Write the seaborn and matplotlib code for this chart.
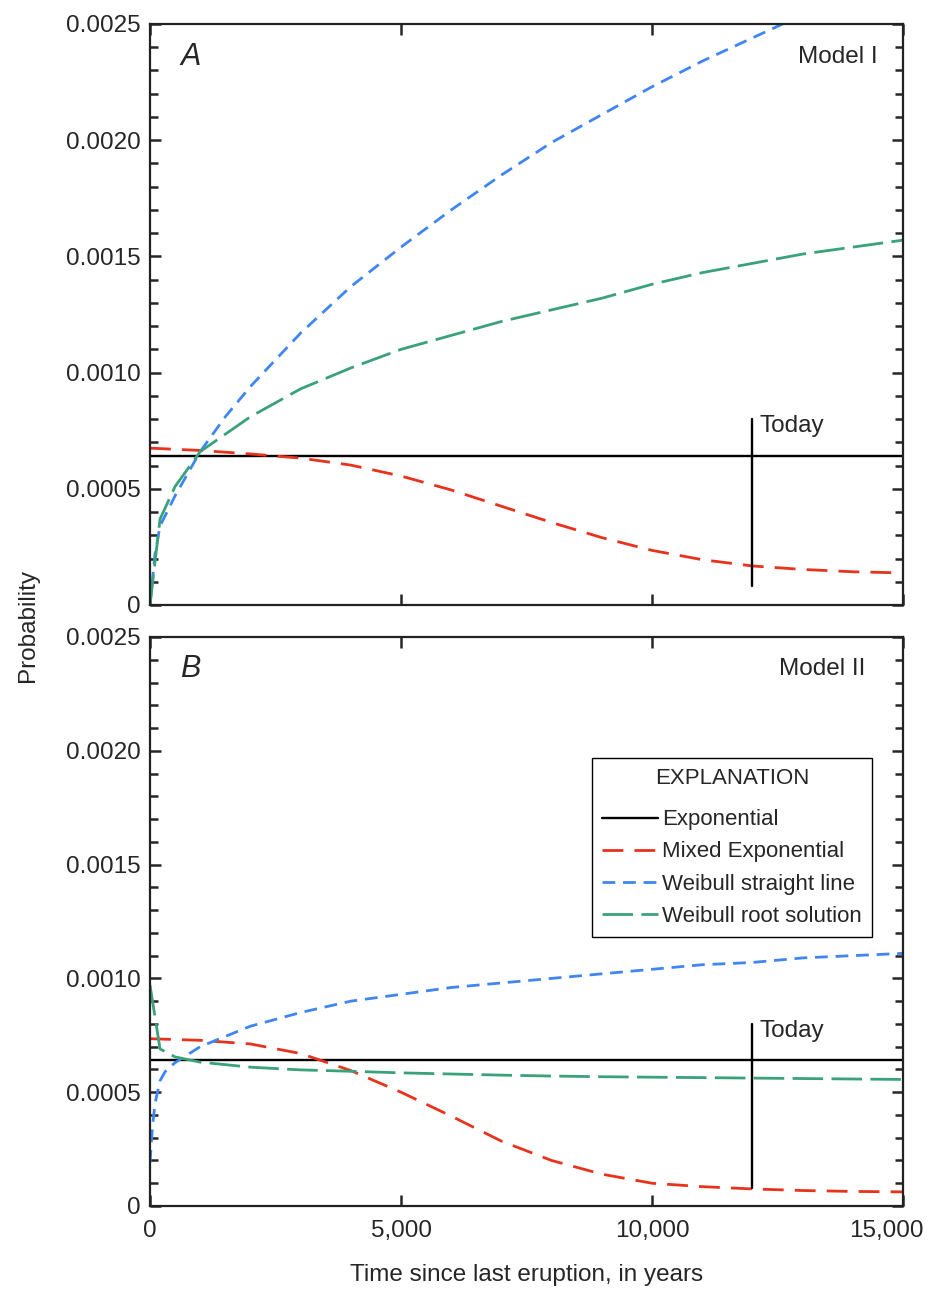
import matplotlib
matplotlib.use("Agg")
import matplotlib.pyplot as plt
import matplotlib.transforms as mtransforms
import seaborn as sns
import numpy as np
import pandas as pd
from matplotlib.ticker import MultipleLocator, FixedLocator
from matplotlib.lines import Line2D

# ---------------- data ----------------
exp_t = [0, 15000]
exp_A = [0.00064, 0.00064]
exp_B = [0.00064, 0.00064]

mix_t = [0, 1000, 2000, 3000, 4000, 5000, 6000, 7000, 8000, 9000, 10000, 11000, 12000, 13000, 14000, 15000]
mix_A = [0.000675, 0.000665, 0.00065, 0.000632, 0.000602, 0.000555, 0.000495, 0.000425, 0.000355,
         0.000290, 0.000235, 0.000195, 0.000168, 0.000153, 0.000143, 0.000138]
mix_B = [0.000735, 0.000728, 0.000712, 0.000670, 0.000595, 0.000500, 0.000395, 0.000285, 0.000200,
         0.000140, 0.000100, 0.000085, 0.000075, 0.000068, 0.000064, 0.000062]

wsl_tA = [0, 100, 200, 500, 1000, 1500, 2000, 3000, 4000, 5000, 6000, 7000, 8000, 9000, 10000,
          11000, 12000, 13000, 14000, 15000]
wsl_A = [0, 0.00022, 0.00034, 0.00047, 0.00066, 0.00081, 0.00094, 0.00117, 0.00137, 0.00154, 0.00170,
         0.00185, 0.00199, 0.00211, 0.00223, 0.00234, 0.00244, 0.00254, 0.00264, 0.00274]
wsl_tB = [0, 50, 100, 200, 300, 500, 1000, 2000, 3000, 4000, 5000, 6000, 7000, 8000, 9000, 10000,
          11000, 12000, 13000, 14000, 15000]
wsl_B = [0.00019, 0.00035, 0.00045, 0.00055, 0.00059, 0.00063, 0.00070, 0.00079, 0.00085, 0.00090,
         0.00093, 0.00096, 0.00098, 0.00100, 0.00102, 0.00104, 0.00106, 0.00107, 0.00109, 0.00110, 0.00111]

wrs_t = [0, 200, 500, 1000, 2000, 3000, 4000, 5000, 6000, 7000, 8000, 9000, 10000, 11000, 12000,
         13000, 14000, 15000]
wrs_A = [0, 0.00037, 0.00051, 0.00066, 0.00081, 0.00093, 0.00102, 0.00110, 0.00116, 0.00122, 0.00127,
         0.00132, 0.00138, 0.00143, 0.00147, 0.00151, 0.00154, 0.00157]
wrs_B = [0.00097, 0.00069, 0.000655, 0.000632, 0.00061, 0.000598, 0.000592, 0.000585, 0.00058, 0.000575,
         0.000571, 0.000568, 0.000566, 0.000564, 0.000562, 0.00056, 0.000558, 0.000556]

today_x = 12000
today_y = [0.00008, 0.0008]

series_names = ["Exponential", "Mixed Exponential", "Weibull straight line", "Weibull root solution"]
x_ticks = [0, 5000, 10000, 15000]
x_tick_labels = ["0", "5,000", "10,000", "15,000"]
y_ticks = [0, 0.0005, 0.0010, 0.0015, 0.0020, 0.0025]
y_tick_labels = ["0", "0.0005", "0.0010", "0.0015", "0.0020", "0.0025"]

# ---------------- style ----------------
sns.set_style("white")
FONT = ["Liberation Sans", "DejaVu Sans"]
plt.rcParams["font.family"] = FONT

colors = {"Exponential": "black", "Mixed Exponential": "#e8321c",
          "Weibull straight line": "#3f86f2", "Weibull root solution": "#3aa27a"}
styles = {"Exponential": "-", "Mixed Exponential": (0, (7.5, 4)),
          "Weibull straight line": (0, (4.6, 2.8)), "Weibull root solution": (0, (11, 3))}
widths = {"Exponential": 1.7, "Mixed Exponential": 2.0,
          "Weibull straight line": 2.0, "Weibull root solution": 2.0}

fig = plt.figure(figsize=(9.33, 12.9), dpi=100)
axA = fig.add_axes([150 / 933, 1 - 605 / 1290, 753 / 933, 581 / 1290])
axB = fig.add_axes([150 / 933, 1 - 1206 / 1290, 753 / 933, 569 / 1290])

panels = [
    (axA, exp_A, mix_A, wsl_tA, wsl_A, wrs_A, "A", "Model I", 14500),
    (axB, exp_B, mix_B, wsl_tB, wsl_B, wrs_B, "B", "Model II", 14260),
]

for ax, e, m, wt, w, r, letter, model, mx in panels:
    data = [
        ("Exponential", exp_t, e),
        ("Mixed Exponential", mix_t, m),
        ("Weibull straight line", wt, w),
        ("Weibull root solution", wrs_t, r),
    ]
    for name, xs, ys in data:
        sns.lineplot(x=xs, y=ys, ax=ax, color=colors[name], linestyle=styles[name],
                     lw=widths[name], estimator=None, sort=False)
    # Today marker
    sns.lineplot(x=[today_x, today_x], y=today_y, ax=ax, color="black", lw=1.7,
                 estimator=None, sort=False)
    ax.text(today_x + 150, 0.00077, "Today", fontsize=17.5, va="center", ha="left")
    ax.text(600, 0.00236, letter, fontsize=22, style="italic", va="center", ha="left")
    ax.text(mx, 0.00236, model, fontsize=17.5, va="center", ha="right")

    ax.set_xlim(0, 15000)
    ax.set_ylim(0, 0.0025)
    ax.xaxis.set_major_locator(FixedLocator(x_ticks))
    ax.yaxis.set_major_locator(FixedLocator(y_ticks))
    ax.yaxis.set_minor_locator(MultipleLocator(0.0001))
    ax.set_yticklabels(y_tick_labels)
    ax.tick_params(axis="both", which="major", direction="in", length=8, width=1.8,
                   top=True, right=True, left=True, bottom=True, labelsize=17.5, pad=7)
    ax.tick_params(axis="x", which="major", pad=10)
    ax.tick_params(axis="y", which="minor", direction="in", length=5.5, width=1.8,
                   left=True, right=True)
    for s in ax.spines.values():
        s.set_linewidth(1.6)
        s.set_color("#222222")
    ax.set_xlabel("")
    ax.set_ylabel("")

axA.set_xticklabels([])
axB.set_xticklabels(x_tick_labels)
# last tick label sits a little to the left of its tick, as in the reference
last = axB.get_xticklabels()[-1]
last.set_transform(last.get_transform() + mtransforms.ScaledTranslation(-17 / 100, 0, fig.dpi_scale_trans))
axB.set_xlabel("Time since last eruption, in years", fontsize=17.5, labelpad=16)
fig.text(28 / 933, 1 - 625 / 1290, "Probability", rotation=90, fontsize=17.5, va="center", ha="center")

handles = [Line2D([0], [0], color=colors[n], linestyle=styles[n], lw=widths[n]) for n in series_names]
leg = axB.legend(handles, series_names, title="EXPLANATION", loc="upper right",
                 bbox_to_anchor=(0.959, 0.787), borderaxespad=0, fontsize=16, title_fontsize=16,
                 frameon=True, fancybox=False, edgecolor="black", framealpha=1,
                 handlelength=2.5, handletextpad=0.2, labelspacing=0.5, borderpad=0.45)
leg._legend_box.sep += 6.5
leg.get_frame().set_linewidth(1.0)

fig.savefig("out.png", dpi=100)
